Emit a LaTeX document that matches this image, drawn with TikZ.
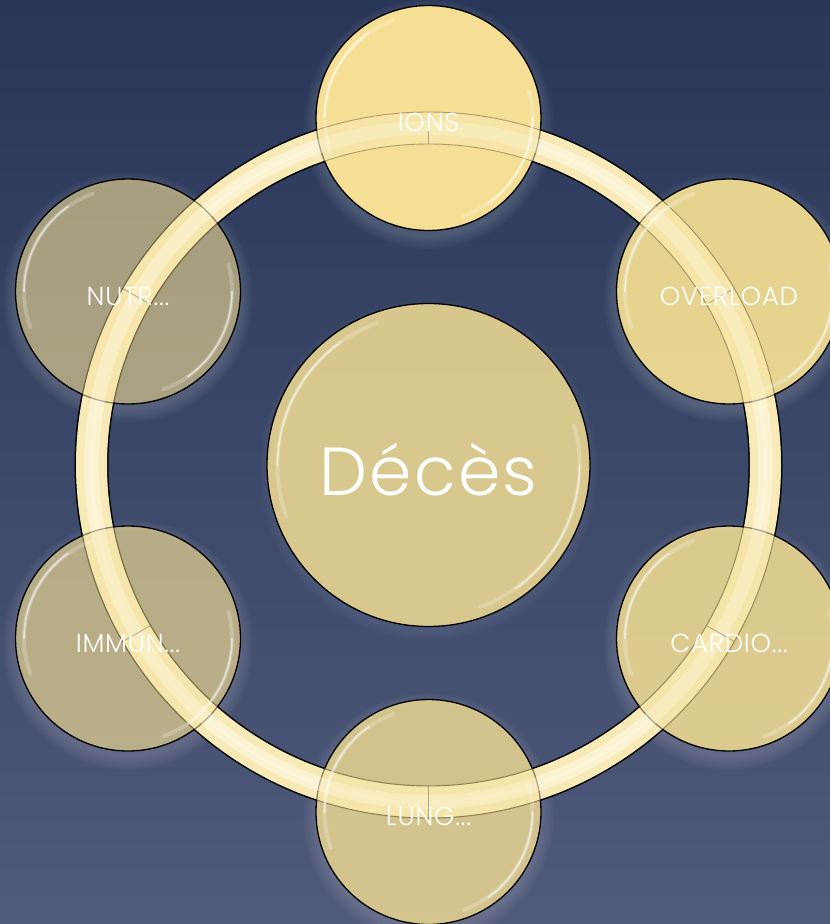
\documentclass[tikz,border=0pt]{standalone}
\usepackage{fontspec}
\newfontfamily\labfont[LetterSpace=3]{Poppins Light}
\usetikzlibrary{calc}
\definecolor{bgtop}{HTML}{283657}
\definecolor{bgbot}{HTML}{505A7A}
\definecolor{gold}{HTML}{F5DF94}
\definecolor{goldc}{HTML}{E4D290}
\definecolor{ringedge}{HTML}{F7EAB6}
\definecolor{ringmid}{HTML}{FEF8E2}
\begin{document}
\begin{tikzpicture}[x=1pt,y=-1pt,
  sat/.style={circle, minimum size=225pt, inner sep=0pt, draw=black, line width=1.3pt, fill=gold},
  lab/.style={text=white, font=\labfont\fontsize{26}{26}\selectfont, inner sep=0pt, anchor=base},
  gloss/.style={white, line width=4pt, line cap=round, opacity=.22},
  glossb/.style={white, line width=1.6pt, line cap=round, opacity=.55},
  seam/.style={black!60, line width=.8pt, opacity=.5},
]
\useasboundingbox (0,0) rectangle (830,924);
\shade[top color=bgtop, bottom color=bgbot] (0,0) rectangle (830,924);
\coordinate (C) at (428.5,465);
% glows
\foreach \x/\y in {428.5/118, 729/291.5, 729/638.5, 428.5/812, 128/638.5, 128/291.5} {
  \foreach \k in {1,...,7}
    \fill[white, opacity=0.025, even odd rule] (\x,\y+6) circle[radius=111pt+\k*2pt] (\x,\y) circle[radius=112.5pt];
}
\foreach \k in {1,...,5}
  \fill[white, opacity=0.015, even odd rule] (428.5,470) circle[radius=160pt+\k*2pt] (C) circle[radius=161.5pt];
% ring
\draw[black, line width=34pt] (C) circle[radius=337pt];
\draw[ringedge, line width=31pt] (C) circle[radius=337pt];
\draw[ringmid, line width=15pt] (C) circle[radius=337pt];
\draw[white, line width=4pt, opacity=.6] (C) circle[radius=337pt];
% circles
\node[sat, fill opacity=1] (ions) at (428.5,118) {};
\node[sat, fill opacity=.93] (overload) at (729,291.5) {};
\node[sat, fill opacity=.86] (cardio) at (729,638.5) {};
\node[sat, fill opacity=.8] (lung) at (428.5,812) {};
\node[sat, fill opacity=.66] (immun) at (128,638.5) {};
\node[sat, fill opacity=.6] (nutr) at (128,291.5) {};
\node[sat, minimum size=323pt, fill=goldc, fill opacity=.93] (deces) at (C) {};
% ring overlay
\draw[ringedge, line width=31pt, opacity=.55] (C) circle[radius=337pt];
\draw[ringmid, line width=14pt, opacity=.35] (C) circle[radius=337pt];
\draw[black, opacity=.3, line width=.9pt] (C) circle[radius=353pt] (C) circle[radius=321pt];
% seams
\foreach \a in {90,30,-30,-90,210,150}
  \draw[seam] ($(C)+(\a:321pt)$) -- ($(C)+(\a:353pt)$);
% gloss highlights
\foreach \n in {ions,overload,cardio,lung,immun,nutr} {
  \draw[gloss] (\n.center) ++(110:104pt) arc[start angle=110, end angle=200, radius=104pt];
  \draw[glossb] (\n.center) ++(125:104pt) arc[start angle=125, end angle=180, radius=104pt];
  \draw[gloss] (\n.center) ++(-70:104pt) arc[start angle=-70, end angle=15, radius=104pt];
  \draw[glossb] (\n.center) ++(-55:104pt) arc[start angle=-55, end angle=0, radius=104pt];
}
\draw[gloss] (deces.center) ++(110:151pt) arc[start angle=110, end angle=200, radius=151pt];
\draw[glossb] (deces.center) ++(125:151pt) arc[start angle=125, end angle=180, radius=151pt];
\draw[gloss] (deces.center) ++(-70:151pt) arc[start angle=-70, end angle=15, radius=151pt];
\draw[glossb] (deces.center) ++(-55:151pt) arc[start angle=-55, end angle=0, radius=151pt];
% labels
\node[lab] (tions) at ($(ions.center)+(0,13.5)$) {IONS};
\node[lab] (toverload) at ($(overload.center)+(0,13.5)$) {OVERLOAD};
\node[lab] (tcardio) at ($(cardio.center)+(0,13.5)$) {CARDIO...};
\node[lab] (tlung) at ($(lung.center)+(0,13.5)$) {LUNG...};
\node[lab] (timmun) at ($(immun.center)+(0,13.5)$) {IMMUN...};
\node[lab] (tnutr) at ($(nutr.center)+(0,13.5)$) {NUTR...};
\node[lab, font=\labfont\fontsize{68}{68}\selectfont] (tdeces) at ($(deces.center)+(0,30)$) {Décès};
\end{tikzpicture}
\end{document}
